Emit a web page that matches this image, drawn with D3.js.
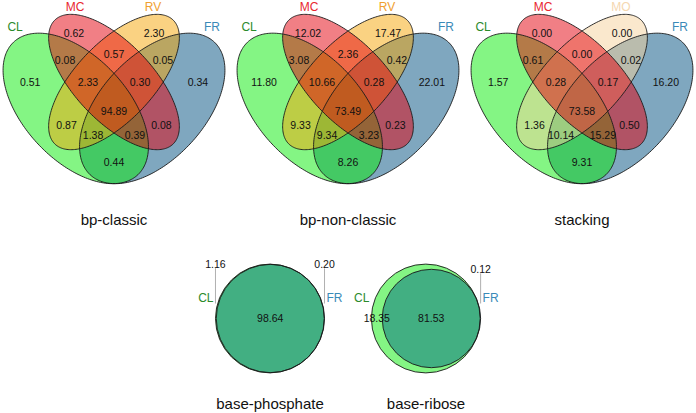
<!DOCTYPE html>
<html><head><meta charset="utf-8">
<script src="https://cdn.jsdelivr.net/npm/d3@7"></script>
<style>body{margin:0;background:#fff}svg{display:block}text{font-family:"Liberation Sans",Arial,Helvetica,sans-serif}</style>
</head><body><svg id="c" width="696" height="413"></svg>
<script>
// ---------------- data ----------------
const quadTitles = ["bp-classic", "bp-non-classic", "stacking"];
const quadSets = [["CL","MC","RV","FR"], ["CL","MC","RV","FR"], ["CL","MC","MO","FR"]];
// region order: A, B, C, D, AB, BC, CD, ABC, BCD, ABCD, AC, BD, ACD, ABD, AD  (A=CL, B=MC, C=RV/MO, D=FR)
const bpClassic    = [0.51, 0.62, 2.30, 0.34, 0.08, 0.57, 0.05, 2.33, 0.30, 94.89, 0.87, 0.08, 1.38, 0.39, 0.44];
const bpNonClassic = [11.80, 12.02, 17.47, 22.01, 3.08, 2.36, 0.42, 10.66, 0.28, 73.49, 9.33, 0.23, 9.34, 3.23, 8.26];
const stacking     = [1.57, 0.00, 0.00, 16.20, 0.61, 0.00, 0.02, 0.28, 0.17, 73.58, 1.36, 0.50, 10.14, 15.29, 9.31];
const quadValues = [bpClassic, bpNonClassic, stacking];

const pairTitles = ["base-phosphate", "base-ribose"];
const pairSets = ["CL", "FR"];
// CL only, both, FR only
const basePhosphate = [1.16, 98.64, 0.20];
const baseRibose    = [18.35, 81.53, 0.12];
const pairValues = [basePhosphate, baseRibose];

// ---------------- style ----------------
const fillColor = {CL:"#0aeb0a", MC:"#e4000c", RV:"#f5a505", FR:"#00507f", MO:"#f5d29b"};
const pairFill = {CL:"#0aeb0a", FR:"#006a80"};
const labelColor = {CL:"#2b8a2b", MC:"#e8272f", RV:"#f0a030", FR:"#3a8ab8", MO:"#f5d7b0"};
const FONT_NUM = 10.5, FONT_SET = 12, FONT_TITLE = 15;

const svg = d3.select("#c");

// ---------------- 4-set ellipse venn ----------------
const ellipses = [ // drawing order
  {set:3, x:0.65, y:0.47, a:0.35, b:0.20, rot:45},
  {set:0, x:0.35, y:0.47, a:0.35, b:0.20, rot:135},
  {set:2, x:0.50, y:0.57, a:0.33, b:0.15, rot:45},
  {set:1, x:0.50, y:0.57, a:0.33, b:0.15, rot:135}
];
const regionPos = [
  [0.171,0.570],[0.343,0.756],[0.657,0.756],[0.829,0.570],
  [0.308,0.653],[0.500,0.676],[0.692,0.653],
  [0.398,0.570],[0.602,0.570],[0.500,0.460],
  [0.314,0.407],[0.686,0.407],[0.418,0.369],[0.582,0.369],[0.500,0.267]
];
const setLabelPos = [[0.112,0.778],[0.347,0.855],[0.653,0.855],[0.884,0.778]];
const quadCx = [114, 348, 582];
const SX = 255, SY = 264, CYQ = 100.5;

quadTitles.forEach((title, p) => {
  const xs = d3.scaleLinear().domain([0,1]).range([quadCx[p] - SX/2, quadCx[p] + SX/2]);
  const ys = d3.scaleLinear().domain([0,1]).range([CYQ + SY/2, CYQ - SY/2]);
  const g = svg.append("g");
  const line = d3.line().x(d => xs(d[0])).y(d => ys(d[1])).curve(d3.curveLinearClosed);
  const ellPts = e => {
    const th = e.rot * Math.PI / 180, pts = [];
    for (let i = 0; i < 240; i++) {
      const t = i / 240 * 2 * Math.PI;
      pts.push([e.x + e.a*Math.cos(t)*Math.cos(th) - e.b*Math.sin(t)*Math.sin(th),
                e.y + e.a*Math.cos(t)*Math.sin(th) + e.b*Math.sin(t)*Math.cos(th)]);
    }
    return pts;
  };
  g.selectAll("path.f").data(ellipses).join("path").attr("class","f")
    .attr("d", e => line(ellPts(e)))
    .attr("fill", e => fillColor[quadSets[p][e.set]]).attr("fill-opacity", 0.5).attr("stroke","none");
  g.selectAll("path.o").data(ellipses).join("path").attr("class","o")
    .attr("d", e => line(ellPts(e)))
    .attr("fill","none").attr("stroke","#1a1a1a").attr("stroke-width",0.9);
  g.selectAll("text.v").data(quadValues[p]).join("text").attr("class","v")
    .attr("x", (d,i) => xs(regionPos[i][0])).attr("y", (d,i) => ys(regionPos[i][1]))
    .attr("dy","0.35em").attr("text-anchor","middle").attr("font-size",FONT_NUM).attr("fill","#111")
    .text(d => d.toFixed(2));
  g.selectAll("text.s").data(quadSets[p]).join("text").attr("class","s")
    .attr("x", (d,i) => xs(setLabelPos[i][0])).attr("y", (d,i) => ys(setLabelPos[i][1]))
    .attr("dy","0.35em").attr("text-anchor","middle").attr("font-size",FONT_SET)
    .attr("fill", d => labelColor[d]).text(d => d);
  g.append("text").attr("x", quadCx[p]).attr("y", 225).attr("text-anchor","middle")
    .attr("font-size",FONT_TITLE).attr("fill","#111").text(title);
});

// ---------------- 2-set circle venn ----------------
const pairCx = [270, 426], PCY = 318.5, K = 9.65;
function lens(r1, r2, d) {
  if (d >= r1 + r2) return 0;
  if (d <= Math.abs(r1 - r2)) return Math.PI * Math.min(r1, r2) ** 2;
  const a1 = Math.acos((d*d + r1*r1 - r2*r2) / (2*d*r1));
  const a2 = Math.acos((d*d + r2*r2 - r1*r1) / (2*d*r2));
  return r1*r1*a1 + r2*r2*a2 - 0.5*Math.sqrt((-d+r1+r2)*(d+r1-r2)*(d-r1+r2)*(d+r1+r2));
}
pairTitles.forEach((title, p) => {
  const v = pairValues[p];
  const rs = d3.scaleSqrt().domain([0, Math.PI]).range([0, K]); // r = K*sqrt(area/pi)
  const r1 = rs(v[0] + v[1]), r2 = rs(v[1] + v[2]);
  const target = K * K * v[1];
  let lo = Math.abs(r1 - r2) + 1e-9, hi = r1 + r2;
  for (let i = 0; i < 80; i++) { const m = (lo + hi) / 2; if (lens(r1, r2, m) > target) lo = m; else hi = m; }
  const d = (lo + hi) / 2;
  const cx = pairCx[p];
  const x1 = cx + (r1 - r2 - d) / 2, x2 = x1 + d;
  const g = svg.append("g");
  const circ = [{x:x1, r:r1, s:"CL"}, {x:x2, r:r2, s:"FR"}];
  g.selectAll("circle.f").data(circ).join("circle").attr("class","f")
    .attr("cx", c => c.x).attr("cy", PCY).attr("r", c => c.r)
    .attr("fill", c => pairFill[c.s]).attr("fill-opacity", 0.5);
  g.selectAll("circle.o").data(circ).join("circle").attr("class","o")
    .attr("cx", c => c.x).attr("cy", PCY).attr("r", c => c.r)
    .attr("fill","none").attr("stroke","#1a1a1a").attr("stroke-width",0.9);
  const left = x1 - r1, right = x2 + r2;
  const labels = [];
  if (v[0] < 5) labels.push({t:v[0], x:left, y:PCY - r1, ext:true});
  else labels.push({t:v[0], x:(left + (x2 - r2)) / 2, y:PCY, ext:false});
  labels.push({t:v[1], x:((x2 - r2) + (x1 + r1)) / 2, y:PCY, ext:false});
  if (v[2] < 5) labels.push({t:v[2], x:right, y:PCY - r2, ext:true});
  else labels.push({t:v[2], x:(right + (x1 + r1)) / 2, y:PCY, ext:false});
  labels.filter(l => l.ext).forEach(l => {
    g.append("line").attr("x1", l.x).attr("x2", l.x).attr("y1", l.y + 4).attr("y2", PCY - 15)
      .attr("stroke","#b0b0b0").attr("stroke-width",1);
  });
  g.selectAll("text.v").data(labels).join("text").attr("class","v")
    .attr("x", l => l.x).attr("y", l => l.y).attr("dy","0.35em").attr("text-anchor","middle")
    .attr("font-size",FONT_NUM).attr("fill","#111").text(l => l.t.toFixed(2));
  g.append("text").attr("x", left - 2).attr("y", PCY - 21).attr("dy","0.35em").attr("text-anchor","end")
    .attr("font-size",FONT_SET).attr("fill",labelColor.CL).text(pairSets[0]);
  g.append("text").attr("x", right + 2).attr("y", PCY - 21).attr("dy","0.35em").attr("text-anchor","start")
    .attr("font-size",FONT_SET).attr("fill",labelColor.FR).text(pairSets[1]);
  g.append("text").attr("x", cx).attr("y", 409).attr("text-anchor","middle")
    .attr("font-size",FONT_TITLE).attr("fill","#111").text(title);
});
</script></body></html>
